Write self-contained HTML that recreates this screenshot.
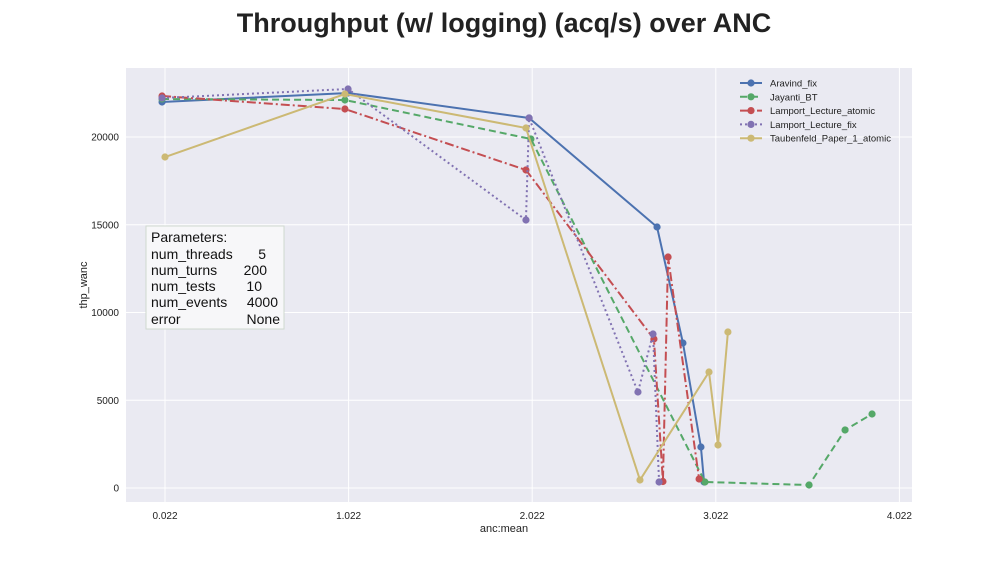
<!DOCTYPE html>
<html><head><meta charset="utf-8"><style>
body{margin:0;background:#fff;}
svg{display:block;font-family:"Liberation Sans",Arial,sans-serif;}
</style></head><body>
<svg id="chart" width="1008" height="576" viewBox="0 0 1008 576">
<text x="504" y="32" text-anchor="middle" font-size="27" font-weight="bold" fill="#222">Throughput (w/ logging) (acq/s) over ANC</text>
<rect x="126" y="68" width="786" height="434" fill="#eaeaf2"/>
<g id="grid"></g>
<g id="series"></g>
<text x="504" y="532" text-anchor="middle" font-size="11" fill="#222">anc:mean</text>
<text x="87" y="285" text-anchor="middle" font-size="11" fill="#222" transform="rotate(-90 87 285)">thp_wanc</text>
<g>
<rect x="146" y="226" width="138" height="103" fill="#f7f7f9" stroke="#cfd8cf" stroke-width="1"/>
<g font-size="14" fill="#111">
<text x="151" y="242">Parameters:</text>
<text x="151" y="259">num_threads</text><text x="266" y="259" text-anchor="end">5</text>
<text x="151" y="275">num_turns</text><text x="267" y="275" text-anchor="end">200</text>
<text x="151" y="291">num_tests</text><text x="262" y="291" text-anchor="end">10</text>
<text x="151" y="307">num_events</text><text x="278" y="307" text-anchor="end">4000</text>
<text x="151" y="324">error</text><text x="280" y="324" text-anchor="end">None</text>
</g></g>
<g id="legend"></g>
</svg>
<script>
const xTicks=[0.022,1.022,2.022,3.022,4.022];
const yTicks=[0,5000,10000,15000,20000];
const seriesNames=["Aravind_fix","Jayanti_BT","Lamport_Lecture_atomic","Lamport_Lecture_fix","Taubenfeld_Paper_1_atomic"];
const aravindX=[0.006,1.019,2.005,2.702,2.843,2.941,2.958];
const aravindY=[21994,22507,21083,14872,8262,2336,342];
const jayantiX=[0.006,1.002,2.015,2.963,3.530,3.726,3.873];
const jayantiY=[22165,22108,19886,342,171,3305,4217];
const lamportAtomicX=[0.006,1.002,1.988,2.685,2.734,2.762,2.931];
const lamportAtomicY=[22336,21595,18120,8490,370,13162,513];
const lamportFixX=[0.006,1.019,1.988,2.005,2.598,2.680,2.713];
const lamportFixY=[22222,22735,15270,21083,5470,8775,342];
const taubX=[0.022,1.002,1.988,2.609,2.985,3.034,3.088];
const taubY=[18860,22450,20513,456,6610,2450,8889];

const NS="http://www.w3.org/2000/svg";
function sx(v){return 165+(v-0.022)*183.6;}
function sy(v){return 488-v*0.01755;}
function mk(tag,attrs,parent){const e=document.createElementNS(NS,tag);for(const k in attrs)e.setAttribute(k,attrs[k]);parent.appendChild(e);return e;}
const grid=document.getElementById('grid');
xTicks.forEach(t=>{
  const l=mk('line',{x1:sx(t),x2:sx(t),y1:68,y2:502,stroke:'#fff','stroke-width':1},grid);
  
  
  const tx=mk('text',{x:sx(t),y:519,'text-anchor':'middle','font-size':10,fill:'#222'},grid);
  tx.textContent=t.toFixed(3);
  
  
});
yTicks.forEach(t=>{
  const l=mk('line',{x1:126,x2:912,y1:sy(t),y2:sy(t),stroke:'#fff','stroke-width':1},grid);
  
  
  const tx=mk('text',{x:119,y:sy(t)+3.5,'text-anchor':'end','font-size':10,fill:'#222'},grid);
  tx.textContent=String(t);
  
  
});
const colors=['#4c72b0','#55a868','#c44e52','#8172b2','#ccb974'];
const dashes=['none','7,4','9,3,2,3','2,3','none'];
const xs=[aravindX,jayantiX,lamportAtomicX,lamportFixX,taubX];
const ys=[aravindY,jayantiY,lamportAtomicY,lamportFixY,taubY];
const sg=document.getElementById('series');
seriesNames.forEach((n,i)=>{
  const g=mk('g',{},sg);
  
  
  const pts=xs[i].map((x,j)=>sx(x)+','+sy(ys[i][j])).join(' ');
  const pl=mk('polyline',{points:pts,fill:'none',stroke:colors[i],'stroke-width':2,'stroke-dasharray':dashes[i]},g);
  
  
  xs[i].forEach((x,j)=>{
    const c=mk('circle',{cx:sx(x),cy:sy(ys[i][j]),r:3.6,fill:colors[i]},g);
    
    
  });
});
const lg=document.getElementById('legend');
seriesNames.forEach((n,i)=>{
  const y=83+i*13.8;
  const l=mk('line',{x1:740,x2:762,y1:y,y2:y,stroke:colors[i],'stroke-width':2,'stroke-dasharray':dashes[i]},lg);
  
  
  const c=mk('circle',{cx:751,cy:y,r:3.6,fill:colors[i]},lg);
  
  
  const t=mk('text',{x:770,y:y+3.5,'font-size':9.5,fill:'#222'},lg);
  t.textContent=n;
  
  
});
</script>
</body></html>
